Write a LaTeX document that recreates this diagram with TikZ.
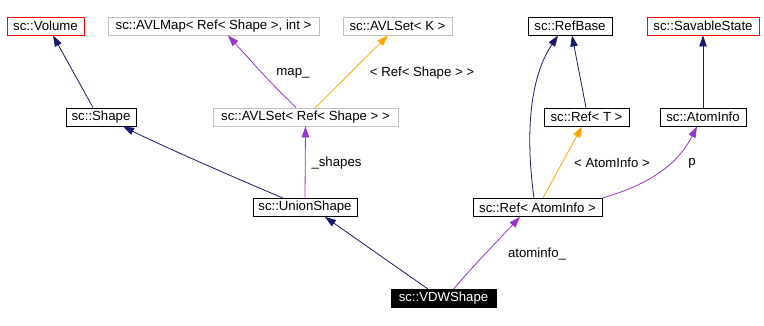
\documentclass[tikz,border=0pt]{standalone}
\usepackage{fontspec}
\setmainfont{Liberation Sans}
\usetikzlibrary{arrows.meta}
\definecolor{navy}{HTML}{191970}
\definecolor{purp}{HTML}{9A32CD}
\definecolor{orng}{HTML}{FFA500}
\definecolor{grayb}{HTML}{BFBFBF}
\newcommand{\dfont}{\fontsize{13.2}{15}\selectfont}
\begin{document}
\begin{tikzpicture}[x=1pt,y=-1pt,
  cls/.style={draw=black,line width=0.9pt,rectangle,minimum height=18pt,inner sep=0pt,fill=white,text=black,font=\dfont},
  tmpl/.style={cls,draw=grayb},
  redb/.style={cls,draw=red},
  curr/.style={cls,fill=black,text=white},
  tip/.style={-{Triangle[length=11pt,width=7.5pt]}},
  inh/.style={tip,draw=navy,line width=0.8pt},
  use/.style={tip,draw=purp,line width=0.8pt},
  tpl/.style={tip,draw=orng,line width=0.8pt},
  lbl/.style={inner sep=0pt,text=black,font=\dfont}]
\useasboundingbox (0,0) rectangle (764,326);
% nodes
\node[redb,minimum width=77pt] (volume) at (45.5,26) {sc::Volume};
\node[tmpl,minimum width=211pt] (avlmap) at (213.5,26) {sc::AVLMap< Ref< Shape >, int >};
\node[tmpl,minimum width=109pt] (avlsetk) at (397.5,26) {sc::AVLSet< K >};
\node[cls,minimum width=84pt] (refbase) at (570,26) {sc::RefBase};
\node[redb,minimum width=112pt] (savable) at (703,26) {sc::SavableState};
\node[cls,minimum width=70pt] (shape) at (101,117) {sc::Shape};
\node[tmpl,minimum width=185pt] (avlsetref) at (305.5,117) {sc::AVLSet< Ref< Shape > >};
\node[cls,minimum width=85pt] (reft) at (586.5,117) {sc::Ref< T >};
\node[cls,minimum width=86pt] (atominfo) at (703,117) {sc::AtomInfo};
\node[cls,minimum width=104pt] (union) at (305,207.5) {sc::UnionShape};
\node[cls,minimum width=129pt] (refatom) at (537.5,207.5) {sc::Ref< AtomInfo >};
\node[curr,minimum width=105pt] (vdw) at (443.5,298.5) {sc::VDWShape};
% edges
\draw[inh] ([xshift=-8pt]shape.north) -- ([xshift=7.5pt]volume.south);
\draw[inh] ([xshift=-22pt]union.north) .. controls (240,180) and (160,145) .. ([xshift=22pt]shape.south);
\draw[use] ([xshift=-9.5pt]avlsetref.north) .. controls (270,82) .. ([xshift=14.5pt]avlmap.south);
\draw[tpl] ([xshift=10pt]avlsetref.north) -- ([xshift=-9.5pt]avlsetk.south);
\draw[use] (union.north) -- (avlsetref.south);
\draw[inh] ([xshift=-15.5pt]vdw.north) -- ([xshift=20pt]union.south);
\draw[use] ([xshift=10pt]vdw.north) .. controls (470,270) .. ([xshift=-17.5pt]refatom.south);
\draw[inh] ([xshift=-3.5pt]refatom.north) .. controls (526,140) and (528,80) .. ([xshift=-12pt]refbase.south);
\draw[inh] ([xshift=-0.5pt]reft.north) -- ([xshift=2pt]refbase.south);
\draw[tpl] ([xshift=5.5pt]refatom.north) -- ([xshift=-4.5pt]reft.south);
\draw[use] (refatom.north east) .. controls (640,187) and (675,170) .. ([xshift=-6pt]atominfo.south);
\draw[inh] (atominfo.north) -- (savable.south);
% labels
\node[lbl] (lmap) at (293,73) {map\_};
\node[lbl] (lref) at (422,73) {< Ref< Shape > >};
\node[lbl] (lshapes) at (336.5,163) {\_shapes};
\node[lbl] (lai) at (612,163) {< AtomInfo >};
\node[lbl] (lp) at (692,163) {p};
\node[lbl] (lat) at (537,254) {atominfo\_};
\end{tikzpicture}
\end{document}
